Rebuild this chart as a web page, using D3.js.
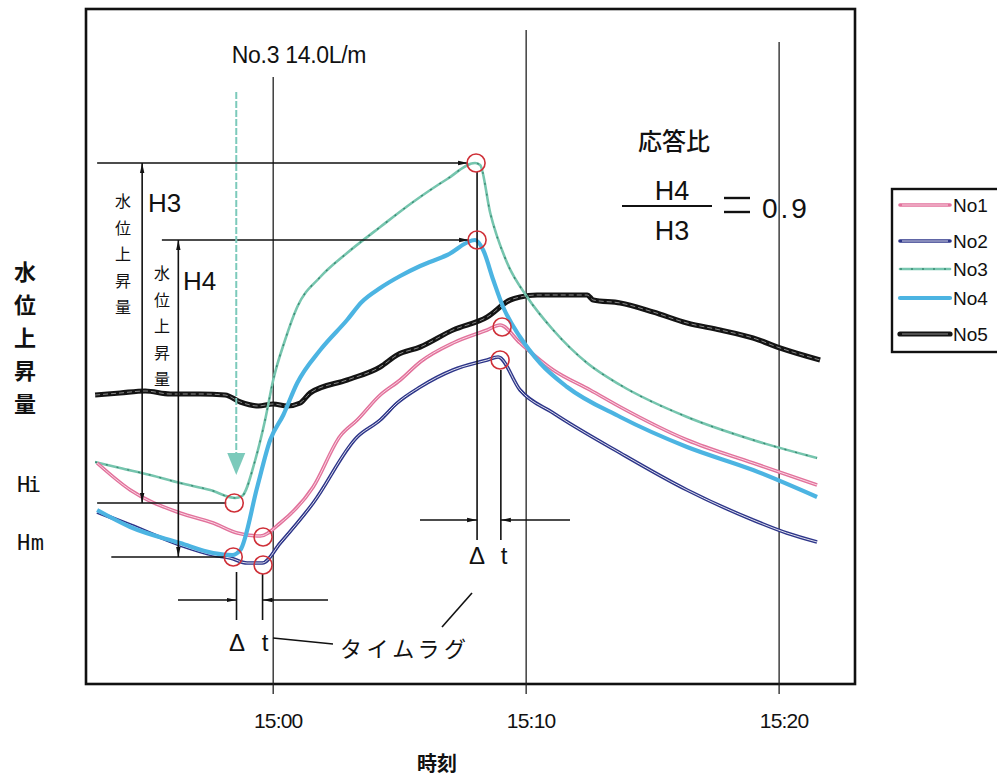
<!DOCTYPE html>
<html>
<head>
<meta charset="utf-8">
<script src="https://cdn.jsdelivr.net/npm/d3@7"></script>
<style>
  body { margin: 0; background: #fff; }
  svg { display: block; }
  text { font-family: "Liberation Sans", Arial, sans-serif; fill: #111; }
  .jp { font-family: "Noto Sans CJK JP", sans-serif; }
</style>
</head>
<body>
<script>
// time = minutes after 15:00, level = water level rise (relative units)
var no1 = [[-6.96,22.3],[-5.65,19.6],[-3.68,17.3],[-2.37,16.3],[-1.42,15.3],[-0.51,15.0],[0.28,16.3],
           [1.58,19.9],[2.65,25.0],[3.32,26.6],[4.23,29.1],[5.02,30.6],[5.81,32.4],[7.11,34.3],[8.46,35.6],
           [8.97,36.1],[9.76,34.3],[11.07,31.6],[12.53,29.6],[13.72,27.9],[16.36,24.6],[18.97,22.3],[21.5,20.1]];
var no2 = [[-6.96,17.4],[-5.65,16.1],[-3.68,14.1],[-2.37,13.1],[-1.70,12.8],[-1.03,12.3],[-0.43,12.3],
           [0.28,14.3],[1.58,18.3],[3.32,24.9],[4.23,26.6],[4.90,28.3],[5.81,29.9],[7.11,31.6],[8.46,32.6],
           [8.89,32.9],[9.76,29.6],[11.07,27.3],[13.72,23.3],[16.36,19.6],[18.97,16.6],[20.3,15.3],[21.5,14.4]];
var no3 = [[-7.04,22.4],[-6.05,21.8],[-4.86,21.1],[-3.68,20.3],[-2.49,19.6],[-1.50,18.8],[-1.23,19.0],
           [-0.71,22.6],[-0.32,26.6],[0.0,30.6],[0.47,34.6],[0.95,37.9],[1.86,40.9],[2.92,43.3],[4.23,45.9],
           [5.53,48.4],[6.88,50.7],[7.98,52.3],[8.18,52.1],[8.58,47.3],[9.25,42.3],[10.04,38.9],[11.07,35.6],
           [12.41,32.3],[13.72,30.1],[16.36,26.9],[18.97,24.6],[21.5,22.8]];
var no4 = [[-6.96,17.6],[-5.65,15.9],[-3.68,14.3],[-2.37,13.3],[-1.62,13.1],[-1.30,13.6],[-0.63,19.9],
           [-0.12,24.6],[0.40,27.1],[0.95,30.3],[1.86,33.6],[2.92,36.6],[3.50,38.4],[4.23,39.8],[5.02,41.0],
           [5.81,42.0],[6.88,43.1],[7.98,44.6],[8.30,43.6],[8.70,40.6],[9.09,37.9],[9.76,34.9],[10.55,32.3],
           [11.62,29.9],[13.72,26.9],[16.36,23.9],[18.97,21.6],[21.5,18.9]];
var no5 = [[-7.04,29.1],[-6.05,29.3],[-5.06,29.5],[-4.07,29.2],[-2.89,29.2],[-1.90,29.1],[-1.30,28.4],
           [-0.59,28.0],[0.0,28.2],[0.55,28.0],[1.07,28.3],[1.46,29.3],[2.92,30.6],[4.23,31.9],[4.90,33.1],
           [5.81,33.9],[7.11,35.6],[8.46,36.9],[9.37,38.6],[9.76,38.9],[10.43,39.1],[12.41,39.1],[12.65,38.6],
           [13.72,38.3],[15.02,37.4],[16.36,36.3],[17.67,35.6],[18.97,34.8],[20.04,33.8],[21.62,32.6]];

var seriesNames = ["No1", "No2", "No3", "No4", "No5"];
var tickMinutes = [0, 10, 20];
var tickLabels = ["15:00", "15:10", "15:20"];
// start of rise (No3, No4, No1, No2) and peaks
var startMarks = [[-1.54,18.3],[-1.58,12.9],[-0.40,14.9],[-0.40,12.1]];
var peakMarks = [[8.02,52.3],[8.06,44.6],[9.05,35.9],[8.97,32.6]];

var W = 997, H = 778;
var svg = d3.select("body").append("svg").attr("width", W).attr("height", H);

var x = d3.scaleLinear().domain([-7.4, 23]).range([86, 855]);
var y = d3.scaleLinear().domain([0, 68]).range([686, 6]);

var styles = {
  No1: {color: "#e2729c", w: 3.6, inner: "#fde8ef"},
  No2: {color: "#2d3589", w: 3.6, inner: "#ffffff"},
  No3: {color: "#76c5ae", w: 2.6, dots: "#3b8a73"},
  No4: {color: "#4cb4e2", w: 4.2},
  No5: {color: "#141414", w: 5.2, inner: "#ffffff"}
};
var dataByName = {No1: no1, No2: no2, No3: no3, No4: no4, No5: no5};

var defs = svg.append("defs");
defs.append("marker").attr("id", "arr")
    .attr("viewBox", "0 0 10 6").attr("refX", 10).attr("refY", 3)
    .attr("markerWidth", 10).attr("markerHeight", 6).attr("markerUnits", "userSpaceOnUse")
    .attr("orient", "auto-start-reverse")
  .append("path").attr("d", "M0,0.8L10,3L0,5.2z").attr("fill", "#111");

// frame
svg.append("rect").attr("x", 86).attr("y", 9).attr("width", 769).attr("height", 675)
    .attr("fill", "none").attr("stroke", "#111").attr("stroke-width", 2.6);

// vertical grid lines (tops differ in original)
var gridTops = [60.9, 65.6, 64.4];
svg.append("g").selectAll("line").data(tickMinutes).enter().append("line")
    .attr("x1", d => x(d)).attr("x2", d => x(d))
    .attr("y1", (d, i) => y(gridTops[i])).attr("y2", 694)
    .attr("stroke", "#222").attr("stroke-width", 1.3);

svg.append("g").selectAll("text").data(tickMinutes).enter().append("text")
    .attr("x", d => x(d) + 5).attr("y", 728).attr("text-anchor", "middle")
    .attr("font-size", 21).attr("letter-spacing", -0.8)
    .text((d, i) => tickLabels[i]);

svg.append("text").attr("class", "jp").attr("x", 437).attr("y", 771).attr("text-anchor", "middle")
    .attr("font-size", 20).attr("font-weight", "bold").text("時刻");

// y label
var ylab = "水位上昇量".split("");
svg.append("g").selectAll("text").data(ylab).enter().append("text")
    .attr("class", "jp").attr("x", 25).attr("y", (d, i) => 280 + i * 33)
    .attr("text-anchor", "middle").attr("font-size", 22).attr("font-weight", "bold").text(d => d);
svg.append("text").attr("x", 17).attr("y", 492).attr("font-size", 22)
    .style("font-family", "'DejaVu Sans Mono', monospace").attr("textLength", 24).text("Hi");
svg.append("text").attr("x", 17).attr("y", 550).attr("font-size", 22)
    .style("font-family", "'DejaVu Sans Mono', monospace").attr("textLength", 27).text("Hm");

// series
var line = d3.line().x(d => x(d[0])).y(d => y(d[1])).curve(d3.curveMonotoneX);
var order = ["No5", "No3", "No1", "No2", "No4"];
order.forEach(function (name) {
  var s = styles[name], d = dataByName[name];
  svg.append("path").datum(d).attr("d", line).attr("fill", "none")
      .attr("stroke", s.color).attr("stroke-width", s.w).attr("stroke-linejoin", "round");
  if (s.inner) {
    svg.append("path").datum(d).attr("d", line).attr("fill", "none")
        .attr("stroke", s.inner).attr("stroke-width", 1)
        .attr("stroke-opacity", name === "No5" ? 0.5 : 0.85)
        .attr("stroke-dasharray", name === "No5" ? "5,3" : null);
  }
  if (s.dots) {
    svg.append("path").datum(d).attr("d", line).attr("fill", "none")
        .attr("stroke", s.dots).attr("stroke-width", 1.4).attr("stroke-dasharray", "2,9");
  }
});

// annotations
var ann = svg.append("g").attr("stroke", "#111").attr("fill", "none").attr("stroke-width", 1.6);
var p3 = peakMarks[0], p4 = peakMarks[1];
var hi = startMarks[0], hm = startMarks[1];
ann.append("line").attr("x1", x(-6.96)).attr("x2", x(p3[0]) - 8).attr("y1", y(p3[1])).attr("y2", y(p3[1]))
    .attr("marker-end", "url(#arr)");
ann.append("line").attr("x1", x(-4.4)).attr("x2", x(p4[0]) - 8).attr("y1", y(p4[1])).attr("y2", y(p4[1]))
    .attr("marker-end", "url(#arr)");
ann.append("line").attr("x1", x(-6.96)).attr("x2", x(hi[0]) - 8).attr("y1", y(hi[1])).attr("y2", y(hi[1]));
ann.append("line").attr("x1", x(-6.4)).attr("x2", x(hm[0]) - 8).attr("y1", y(hm[1])).attr("y2", y(hm[1]));
ann.append("line").attr("x1", x(-5.18)).attr("x2", x(-5.18)).attr("y1", y(hi[1])).attr("y2", y(p3[1]))
    .attr("marker-start", "url(#arr)").attr("marker-end", "url(#arr)");
ann.append("line").attr("x1", x(-3.75)).attr("x2", x(-3.75)).attr("y1", y(hm[1])).attr("y2", y(p4[1]))
    .attr("marker-start", "url(#arr)").attr("marker-end", "url(#arr)");

// delta t lines
function dtLines(t1, t2, top1, top2, bottom, yArr, left, right) {
  ann.append("line").attr("x1", x(t1)).attr("x2", x(t1)).attr("y1", top1).attr("y2", bottom);
  ann.append("line").attr("x1", x(t2)).attr("x2", x(t2)).attr("y1", top2).attr("y2", bottom);
  ann.append("line").attr("x1", left).attr("x2", x(t1)).attr("y1", yArr).attr("y2", yArr)
      .attr("marker-end", "url(#arr)");
  ann.append("line").attr("x1", right).attr("x2", x(t2)).attr("y1", yArr).attr("y2", yArr)
      .attr("marker-end", "url(#arr)");
}
dtLines(-1.45, -0.42, 572, 574, 620, 600, 178, 328);
dtLines(8.06, 9.0, 172, 370, 540, 520, 420, 570);
ann.append("line").attr("x1", 472).attr("y1", 593).attr("x2", 442).attr("y2", 627);
ann.append("line").attr("x1", 273).attr("y1", 638).attr("x2", 333).attr("y2", 644);

// red circles
svg.append("g").selectAll("circle").data(startMarks.concat(peakMarks)).enter().append("circle")
    .attr("cx", d => x(d[0])).attr("cy", d => y(d[1])).attr("r", 9)
    .attr("fill", "none").attr("stroke", "#cf3038").attr("stroke-width", 1.6);

// flow-start arrow (No.3)
svg.append("line").attr("x1", x(-1.46)).attr("x2", x(-1.46)).attr("y1", 92).attr("y2", 456)
    .attr("stroke", "#7ccabb").attr("stroke-width", 2).attr("stroke-dasharray", "7,2");
svg.append("path")
    .attr("d", "M" + (x(-1.46) - 9) + ",453L" + (x(-1.46) + 9) + ",453L" + x(-1.46) + ",475Z")
    .attr("fill", "#7ccabb");
svg.append("text").attr("x", 299).attr("y", 63).attr("text-anchor", "middle")
    .attr("font-size", 23).attr("letter-spacing", -0.3).text("No.3 14.0L/m");

// H3 / H4 labels
svg.append("text").attr("x", 148).attr("y", 212).attr("font-size", 26).text("H3");
svg.append("text").attr("x", 183).attr("y", 290).attr("font-size", 26).text("H4");
var small = "水位上昇量".split("");
svg.append("g").selectAll("text").data(small).enter().append("text")
    .attr("class", "jp").attr("x", 123).attr("y", (d, i) => 207 + i * 26.5)
    .attr("text-anchor", "middle").attr("font-size", 16).text(d => d);
svg.append("g").selectAll("text").data(small).enter().append("text")
    .attr("class", "jp").attr("x", 162).attr("y", (d, i) => 279 + i * 26.5)
    .attr("text-anchor", "middle").attr("font-size", 16).text(d => d);

// delta t text
function dtText(cx1, cx2, base) {
  svg.append("text").attr("x", cx1).attr("y", base).attr("text-anchor", "middle").attr("font-size", 24).text("Δ");
  svg.append("text").attr("x", cx2).attr("y", base).attr("text-anchor", "middle").attr("font-size", 24).text("t");
}
dtText(237, 265, 651);
dtText(477, 504, 564);
svg.append("text").attr("class", "jp").attr("x", 340).attr("y", 657).attr("font-size", 22)
    .attr("textLength", 126).text("タイムラグ");

// response ratio
svg.append("text").attr("class", "jp").attr("x", 674).attr("y", 150).attr("text-anchor", "middle")
    .attr("font-size", 24).attr("font-weight", 500).text("応答比");
svg.append("text").attr("x", 672).attr("y", 200).attr("text-anchor", "middle").attr("font-size", 27).text("H4");
svg.append("text").attr("x", 672).attr("y", 240).attr("text-anchor", "middle").attr("font-size", 27).text("H3");
svg.append("line").attr("x1", 622).attr("x2", 712).attr("y1", 206).attr("y2", 206)
    .attr("stroke", "#111").attr("stroke-width", 2);
svg.append("line").attr("x1", 724).attr("x2", 750).attr("y1", 198).attr("y2", 198)
    .attr("stroke", "#111").attr("stroke-width", 2.4);
svg.append("line").attr("x1", 724).attr("x2", 750).attr("y1", 212).attr("y2", 212)
    .attr("stroke", "#111").attr("stroke-width", 2.4);
svg.append("text").attr("x", 762).attr("y", 218).attr("font-size", 28).attr("letter-spacing", 3).text("0.9");

// legend
var lg = svg.append("g");
lg.append("rect").attr("x", 892).attr("y", 189).attr("width", 120).attr("height", 163)
    .attr("fill", "#fff").attr("stroke", "#111").attr("stroke-width", 2.4);
var legY = [205, 241, 269, 298, 334];
seriesNames.forEach(function (name, i) {
  var s = styles[name];
  lg.append("line").attr("x1", 900).attr("x2", 950).attr("y1", legY[i]).attr("y2", legY[i])
      .attr("stroke", s.color).attr("stroke-width", s.w).attr("stroke-linecap", "round");
  if (s.inner) {
    lg.append("line").attr("x1", 902).attr("x2", 948).attr("y1", legY[i]).attr("y2", legY[i])
        .attr("stroke", s.inner).attr("stroke-width", 1).attr("stroke-opacity", name === "No5" ? 0.5 : 0.85);
  }
  if (s.dots) {
    lg.append("line").attr("x1", 900).attr("x2", 950).attr("y1", legY[i]).attr("y2", legY[i])
        .attr("stroke", s.dots).attr("stroke-width", 1.4).attr("stroke-dasharray", "2,9");
  }
  lg.append("text").attr("x", 953).attr("y", legY[i] + 7).attr("font-size", 19).text(name);
});
</script>
</body>
</html>
